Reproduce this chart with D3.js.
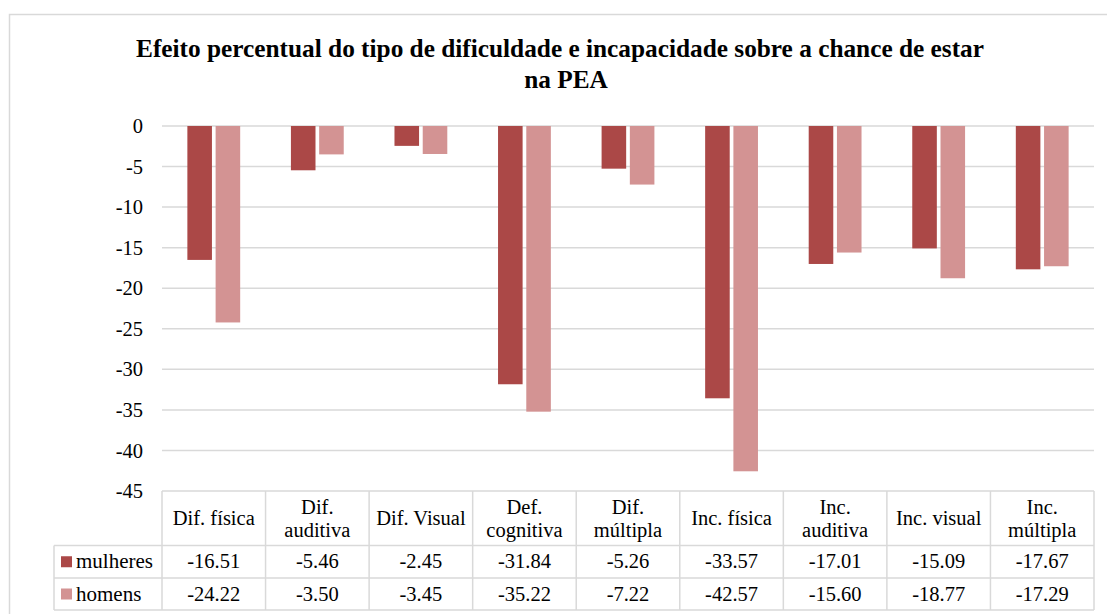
<!DOCTYPE html>
<html>
<head>
<meta charset="utf-8">
<script src="https://cdn.jsdelivr.net/npm/d3@7"></script>
<style>
  body { margin: 0; background: #fff; }
</style>
</head>
<body>
<div id="chart"></div>
<script>
// chart data
var categories = ["Dif. física", "Dif. auditiva", "Dif. Visual", "Def. cognitiva", "Dif. múltipla",
                  "Inc. física", "Inc. auditiva", "Inc. visual", "Inc. múltipla"]
// how the category names wrap in the table header
var categoryLines = [["Dif. física"], ["Dif.", "auditiva"], ["Dif. Visual"], ["Def.", "cognitiva"], ["Dif.", "múltipla"],
                     ["Inc. física"], ["Inc.", "auditiva"], ["Inc. visual"], ["Inc.", "múltipla"]]
var seriesNames = ["mulheres", "homens"]
var mulheres = [-16.51, -5.46, -2.45, -31.84, -5.26, -33.57, -17.01, -15.09, -17.67]
var homens = [-24.22, -3.50, -3.45, -35.22, -7.22, -42.57, -15.60, -18.77, -17.29]
var yTicks = [0, -5, -10, -15, -20, -25, -30, -35, -40, -45]
var colors = ["#ab4847", "#d39393"]

var FONT = "Liberation Serif"
var FS = "20.5px"

var width = 1107,
    height = 614

var plotLeft = 162, plotRight = 1094
var plotTop = 126, plotBottom = 491
var tableLeft = 54
var rowY = [491, 545.5, 578, 610]

var svg = d3.select("#chart")
  .append("svg")
    .attr("width", width)
    .attr("height", height)

// outer chart border (runs off the right and bottom edges)
svg.append("rect")
  .attr("x", 9.5).attr("y", 14.5)
  .attr("width", 1120).attr("height", 640)
  .attr("fill", "#fff")
  .attr("stroke", "#d9d9d9")
  .attr("stroke-width", 1.5)

// title
var title = svg.append("text")
  .attr("text-anchor", "middle")
  .style("font-family", FONT)
  .style("font-weight", "bold")
  .style("font-size", "25.3px")
title.append("tspan").attr("x", 560).attr("y", 57)
  .text("Efeito percentual do tipo de dificuldade e incapacidade sobre a chance de estar")
title.append("tspan").attr("x", 566).attr("y", 88).text("na PEA")

// scales
var x = d3.scaleBand()
  .domain(categories)
  .range([plotLeft, plotRight])

var xInner = d3.scaleBand()
  .domain(seriesNames)
  .range([x.bandwidth() * 0.245, x.bandwidth() * 0.755])
  .paddingInner(0.13)

var y = d3.scaleLinear()
  .domain([0, -45])
  .range([plotTop, plotBottom])

// gridlines
svg.append("g")
  .selectAll("line")
  .data(yTicks.slice(0, -1))
  .enter()
  .append("line")
    .attr("x1", plotLeft).attr("x2", plotRight)
    .attr("y1", function(d) { return y(d) }).attr("y2", function(d) { return y(d) })
    .attr("stroke", "#d9d9d9")
    .attr("stroke-width", 1.5)

// y axis labels
var yAxis = svg.append("g")
  .attr("transform", "translate(" + plotLeft + ",0)")
  .call(d3.axisLeft(y).tickValues(yTicks).tickSize(0).tickPadding(19)
    .tickFormat(function(d) { return String(d) }))
yAxis.select(".domain").remove()
yAxis.selectAll("text")
  .attr("fill", "#000")
  .style("font-size", FS)
  .style("font-family", FONT)

// bars
var seriesData = [mulheres, homens]
seriesData.forEach(function(values, s) {
  svg.append("g")
    .selectAll("rect")
    .data(values)
    .enter()
    .append("rect")
      .attr("x", function(d, i) { return x(categories[i]) + xInner(seriesNames[s]) })
      .attr("y", y(0))
      .attr("width", xInner.bandwidth())
      .attr("height", function(d) { return y(d) - y(0) })
      .attr("fill", colors[s])
})

// data table
var grid = svg.append("g")
  .attr("stroke", "#d9d9d9")
  .attr("stroke-width", 1.5)

// horizontal lines
grid.append("line").attr("x1", plotLeft).attr("x2", plotRight).attr("y1", rowY[0]).attr("y2", rowY[0])
for (var r = 1; r < rowY.length; r++) {
  grid.append("line").attr("x1", tableLeft).attr("x2", plotRight).attr("y1", rowY[r]).attr("y2", rowY[r])
}
// vertical lines
grid.append("line").attr("x1", tableLeft).attr("x2", tableLeft).attr("y1", rowY[1]).attr("y2", rowY[3])
categories.forEach(function(c) {
  grid.append("line").attr("x1", x(c)).attr("x2", x(c)).attr("y1", rowY[0]).attr("y2", rowY[3])
})
grid.append("line").attr("x1", plotRight).attr("x2", plotRight).attr("y1", rowY[0]).attr("y2", rowY[3])

// header labels
categories.forEach(function(c, i) {
  var lines = categoryLines[i]
  var cy = (rowY[0] + rowY[1]) / 2
  var t = svg.append("text")
    .attr("text-anchor", "middle")
    .style("font-family", FONT)
    .style("font-size", FS)
  lines.forEach(function(line, j) {
    t.append("tspan")
      .attr("x", x(c) + x.bandwidth() / 2)
      .attr("y", cy + 7 + (j - (lines.length - 1) / 2) * 23.5)
      .text(line)
  })
})

// series rows
seriesData.forEach(function(values, s) {
  var cy = (rowY[s + 1] + rowY[s + 2]) / 2
  svg.append("rect")
    .attr("x", 61).attr("y", cy - 5.5)
    .attr("width", 11).attr("height", 11)
    .attr("fill", colors[s])
  svg.append("text")
    .attr("x", 76).attr("y", cy + 6.5)
    .style("font-family", FONT)
    .style("font-size", "21px")
    .text(seriesNames[s])
  svg.append("g")
    .selectAll("text")
    .data(values)
    .enter()
    .append("text")
      .attr("x", function(d, i) { return x(categories[i]) + x.bandwidth() / 2 })
      .attr("y", cy + 6.5)
      .attr("text-anchor", "middle")
      .style("font-family", FONT)
      .style("font-size", FS)
      .text(function(d) { return d.toFixed(2) })
})
</script>
</body>
</html>
